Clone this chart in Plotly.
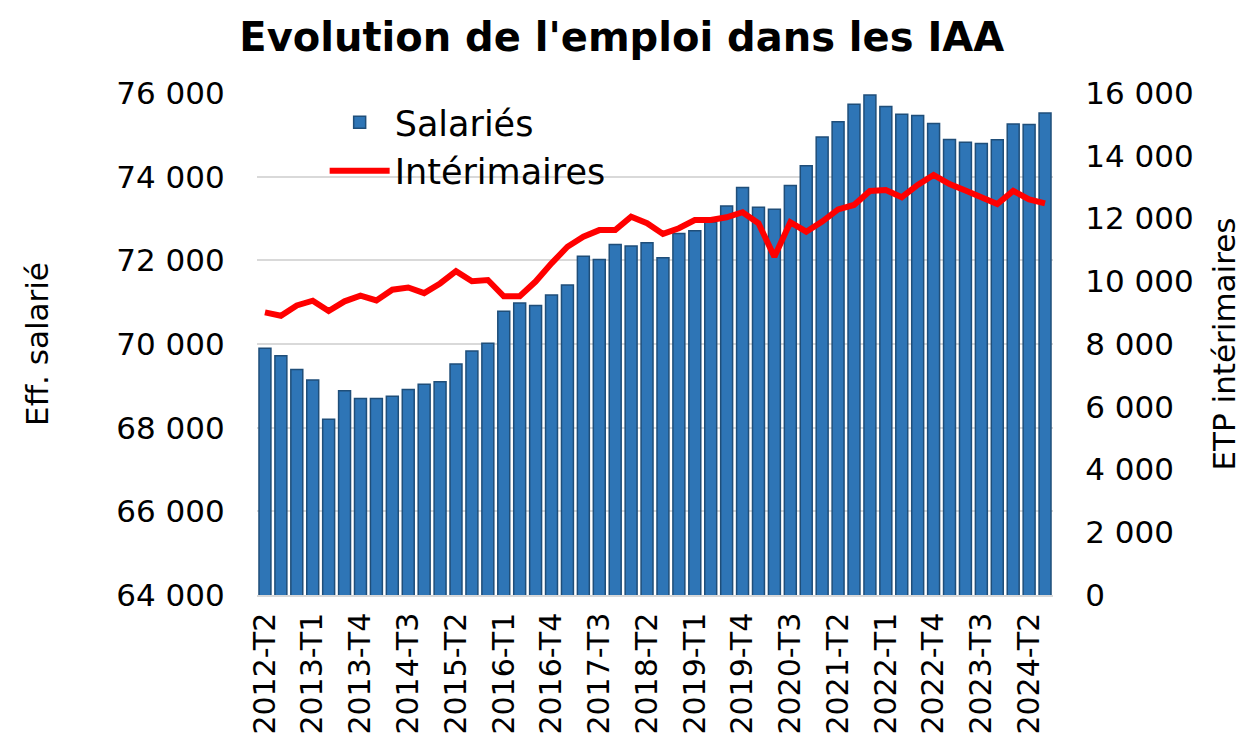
import plotly.graph_objects as go

quarters = []
for y in range(2012, 2025):
    for q in range(1, 5):
        lab = f"{y}-T{q}"
        if (y == 2012 and q == 1) or (y == 2024 and q == 4):
            continue
        quarters.append(lab)

salaries = [69900, 69720, 69390, 69140, 68200, 68880, 68700, 68700, 68750, 68910,
            69040, 69100, 69520, 69830, 70020, 70780, 70980, 70920, 71170, 71410,
            72100, 72020, 72380, 72340, 72420, 72060, 72640, 72710, 72910, 73300,
            73740, 73270, 73220, 73790, 74260, 74950, 75310, 75730, 75950, 75680,
            75490, 75460, 75270, 74890, 74820, 74790, 74880, 75260, 75250, 75520]

interimaires = [9010, 8900, 9230, 9380, 9050, 9360, 9540, 9390, 9730, 9800,
                9620, 9930, 10320, 10000, 10040, 9520, 9520, 9990, 10570, 11100,
                11420, 11630, 11630, 12060, 11850, 11510, 11690, 11950, 11950, 12040,
                12200, 11850, 10780, 11880, 11580, 11900, 12290, 12430, 12880, 12910,
                12680, 13070, 13390, 13100, 12890, 12680, 12460, 12880, 12610, 12480]

tick_labels = quarters[::3]

font_family = "DejaVu Sans, Verdana, sans-serif"

fig = go.Figure()
fig.add_trace(go.Bar(
    x=quarters, y=salaries, name="Salariés",
    marker=dict(color="#2E75B6", line=dict(color="#1F4E79", width=1.5)),
    yaxis="y",
))
fig.add_trace(go.Scatter(
    x=quarters, y=interimaires, name="Intérimaires", mode="lines",
    line=dict(color="#FF0000", width=6),
    yaxis="y2",
))

fig.update_layout(
    width=1245, height=754,
    margin=dict(l=249, r=200, t=85, b=167),
    paper_bgcolor="white", plot_bgcolor="white",
    separators=", ",
    font=dict(family=font_family, color="black", size=31),
    title=dict(text="<b>Evolution de l'emploi dans les IAA</b>",
               x=0.493, xanchor="center", y=0.962, yanchor="middle",
               font=dict(size=40, family=font_family, color="black")),
    bargap=0.25,
    showlegend=True,
    legend=dict(x=0.085, y=1.0, xanchor="left", yanchor="top",
                bgcolor="rgba(0,0,0,0)", font=dict(size=35),
                tracegroupgap=0, itemwidth=60),
    xaxis=dict(
        type="category",
        tickmode="array", tickvals=tick_labels, ticktext=tick_labels,
        tickangle=-90, tickfont=dict(size=30),
        showgrid=False, showline=True, linecolor="#D9D9D9", linewidth=1.5,
        ticks="outside", ticklen=4, tickcolor="rgba(0,0,0,0)",
    ),
    yaxis=dict(
        range=[64000, 76000], dtick=2000, tickformat=",d",
        showgrid=True, gridcolor="#D9D9D9", gridwidth=1.5,
        zeroline=False, showline=False,
        ticks="outside", ticklen=25, tickcolor="rgba(0,0,0,0)",
        tickfont=dict(size=31),
        title=dict(text="Eff. salarié", font=dict(size=31), standoff=58),
    ),
    yaxis2=dict(
        range=[0, 16000], dtick=2000, tickformat=",d",
        overlaying="y", side="right",
        showgrid=False, zeroline=False, showline=False,
        ticks="outside", ticklen=25, tickcolor="rgba(0,0,0,0)",
        tickfont=dict(size=31),
        title=dict(text="ETP intérimaires", font=dict(size=31), standoff=20),
    ),
)

fig.write_html("out.html")
